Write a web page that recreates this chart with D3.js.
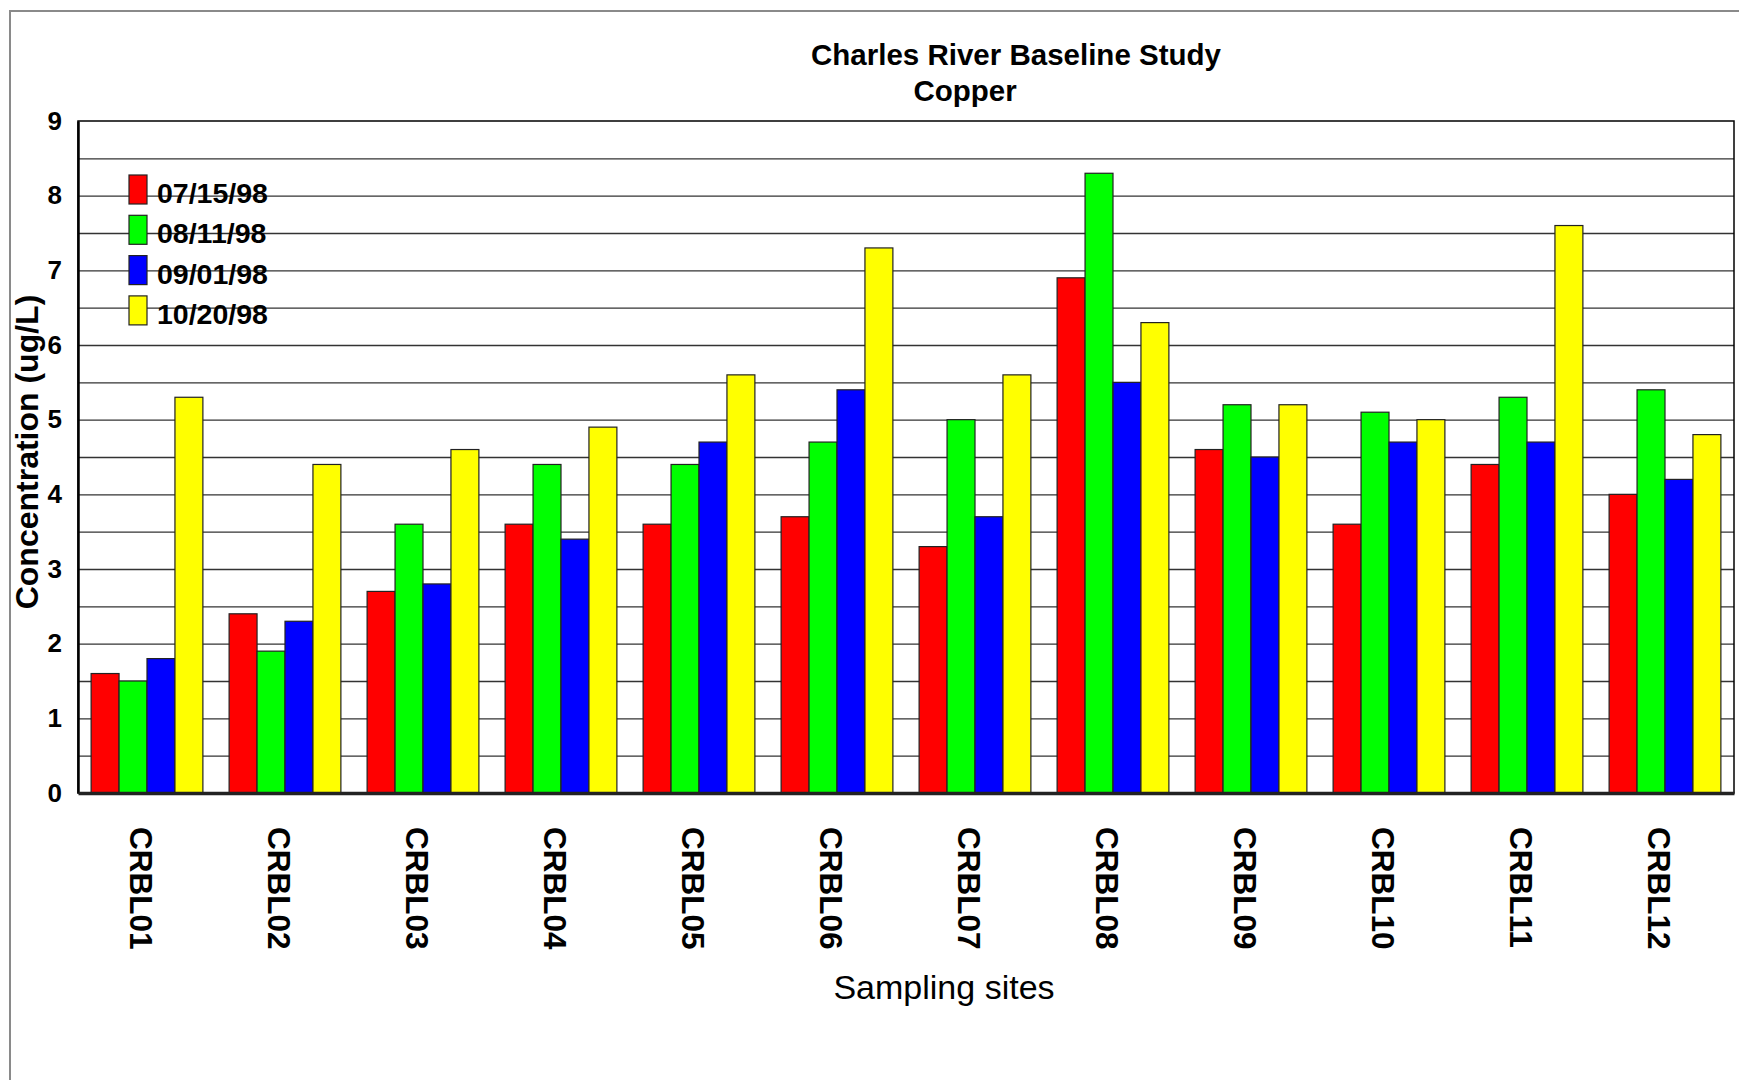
<!DOCTYPE html>
<html>
<head>
<meta charset="utf-8">
<script src="https://cdn.jsdelivr.net/npm/d3@7"></script>
<style>
  body { margin: 0; background: #ffffff; }
  text { font-family: "Liberation Sans", Arial, sans-serif; fill: #000000; }
  .tick text { font-weight: bold; }
</style>
</head>
<body>
<script>
// Copper concentrations (ug/L) per sampling site and date
var sites = ["CRBL01", "CRBL02", "CRBL03", "CRBL04", "CRBL05", "CRBL06",
             "CRBL07", "CRBL08", "CRBL09", "CRBL10", "CRBL11", "CRBL12"];
var dates = ["07/15/98", "08/11/98", "09/01/98", "10/20/98"];
var july = [1.6, 2.4, 2.7, 3.6, 3.6, 3.7, 3.3, 6.9, 4.6, 3.6, 4.4, 4.0];
var august = [1.5, 1.9, 3.6, 4.4, 4.4, 4.7, 5.0, 8.3, 5.2, 5.1, 5.3, 5.4];
var september = [1.8, 2.3, 2.8, 3.4, 4.7, 5.4, 3.7, 5.5, 4.5, 4.7, 4.7, 4.2];
var october = [5.3, 4.4, 4.6, 4.9, 5.6, 7.3, 5.6, 6.3, 5.2, 5.0, 7.6, 4.8];
var yTicks = [0, 1, 2, 3, 4, 5, 6, 7, 8, 9];
var colors = ["#ff0000", "#00ff00", "#0000ff", "#ffff00"];

window.onload = function() {
  createChart();
};

function createChart() {
  var width = 1739;
  var height = 1080;
  var left = 78;
  var right = 1734;
  var top = 121;
  var bottom = 793;

  var series = [july, august, september, october];

  var svg = d3.select("body")
              .append("svg")
              .attr("width", width)
              .attr("height", height);

  // Outer frame (only top and left edges show)
  svg.append("rect")
     .attr("x", 10)
     .attr("y", 11)
     .attr("width", width + 20)
     .attr("height", height + 20)
     .attr("fill", "none")
     .attr("stroke", "#8a8a8a")
     .attr("stroke-width", 2);

  // Scales
  var scaleX = d3.scaleBand()
                 .domain(sites)
                 .range([left, right])
                 .paddingInner(0.19)
                 .paddingOuter(0.095);

  var scaleSeries = d3.scaleBand()
                      .domain(d3.range(dates.length))
                      .range([0, scaleX.bandwidth()]);

  var scaleY = d3.scaleLinear()
                 .domain([0, 9])
                 .range([bottom, top]);

  // Gridlines every 0.5
  var gridAxis = d3.axisLeft(scaleY)
                   .tickValues(d3.range(0.5, 9, 0.5))
                   .tickSize(-(right - left))
                   .tickFormat("");
  var grid = svg.append("g")
                .attr("transform", "translate(" + left + ",0)")
                .call(gridAxis);
  grid.select(".domain").remove();
  grid.selectAll("line")
      .attr("stroke", "#333333")
      .attr("stroke-width", 1.4);

  // Plot border
  svg.append("rect")
     .attr("x", left)
     .attr("y", top)
     .attr("width", right - left)
     .attr("height", bottom - top)
     .attr("fill", "none")
     .attr("stroke", "#000000")
     .attr("stroke-width", 1.5);

  // Bars
  var groups = svg.selectAll(".site")
                  .data(sites)
                  .enter()
                  .append("g")
                  .attr("class", "site")
                  .attr("transform", function(d) {
                    return "translate(" + scaleX(d) + ",0)";
                  });

  groups.selectAll("rect")
        .data(function(d, i) {
          return series.map(function(s, j) {
            return {"series": j, "value": s[i]};
          });
        })
        .enter()
        .append("rect")
        .attr("x", function(d) { return scaleSeries(d.series); })
        .attr("y", function(d) { return scaleY(d.value); })
        .attr("width", scaleSeries.bandwidth())
        .attr("height", function(d) { return bottom - scaleY(d.value); })
        .attr("fill", function(d) { return colors[d.series]; })
        .attr("stroke", "#222222")
        .attr("stroke-width", 1.2);

  // Y axis
  var yAxis = d3.axisLeft(scaleY)
                .tickValues(yTicks)
                .tickSize(0)
                .tickPadding(16)
                .tickFormat(d3.format("d"));
  var yG = svg.append("g")
              .attr("transform", "translate(" + left + ",0)")
              .call(yAxis);
  yG.select(".domain")
    .attr("stroke", "#000000")
    .attr("stroke-width", 2.5);
  yG.selectAll("text")
    .attr("font-size", 26)
    .attr("font-family", "Liberation Sans, Arial, sans-serif");

  // X axis (baseline + rotated site names)
  var xAxis = d3.axisBottom(scaleX)
                .tickSize(0)
                .tickSizeOuter(0);
  var xG = svg.append("g")
              .attr("transform", "translate(0," + bottom + ")")
              .call(xAxis);
  xG.select(".domain")
    .attr("stroke", "#222222")
    .attr("stroke-width", 3.5);
  xG.selectAll("text")
    .attr("font-size", 31.5)
    .attr("font-family", "Liberation Sans, Arial, sans-serif")
    .attr("text-anchor", "start")
    .attr("dy", null)
    .attr("y", 0)
    .attr("transform", "translate(-17,34) rotate(90)");

  // Axis titles
  svg.append("text")
     .text("Concentration (ug/L)")
     .attr("font-size", 32)
     .attr("font-weight", "bold")
     .attr("text-anchor", "middle")
     .attr("transform", "translate(38,452) rotate(-90)");

  svg.append("text")
     .text("Sampling sites")
     .attr("font-size", 34)
     .attr("text-anchor", "middle")
     .attr("x", 944)
     .attr("y", 999);

  // Title
  svg.append("text")
     .text("Charles River Baseline Study")
     .attr("font-size", 29.5)
     .attr("font-weight", "bold")
     .attr("text-anchor", "middle")
     .attr("x", 1016)
     .attr("y", 65);
  svg.append("text")
     .text("Copper")
     .attr("font-size", 29.5)
     .attr("font-weight", "bold")
     .attr("text-anchor", "middle")
     .attr("x", 965)
     .attr("y", 101);

  // Legend
  var legend = svg.selectAll(".legend")
                  .data(dates)
                  .enter()
                  .append("g")
                  .attr("class", "legend")
                  .attr("transform", function(d, i) {
                    return "translate(129," + (175 + i * 40.3) + ")";
                  });
  legend.append("rect")
        .attr("width", 18)
        .attr("height", 29)
        .attr("fill", function(d, i) { return colors[i]; })
        .attr("stroke", "#222222")
        .attr("stroke-width", 1.2);
  legend.append("text")
        .text(function(d) { return d; })
        .attr("x", 28)
        .attr("y", 28)
        .attr("font-size", 28.5)
        .attr("font-weight", "bold");
};
</script>
</body>
</html>
